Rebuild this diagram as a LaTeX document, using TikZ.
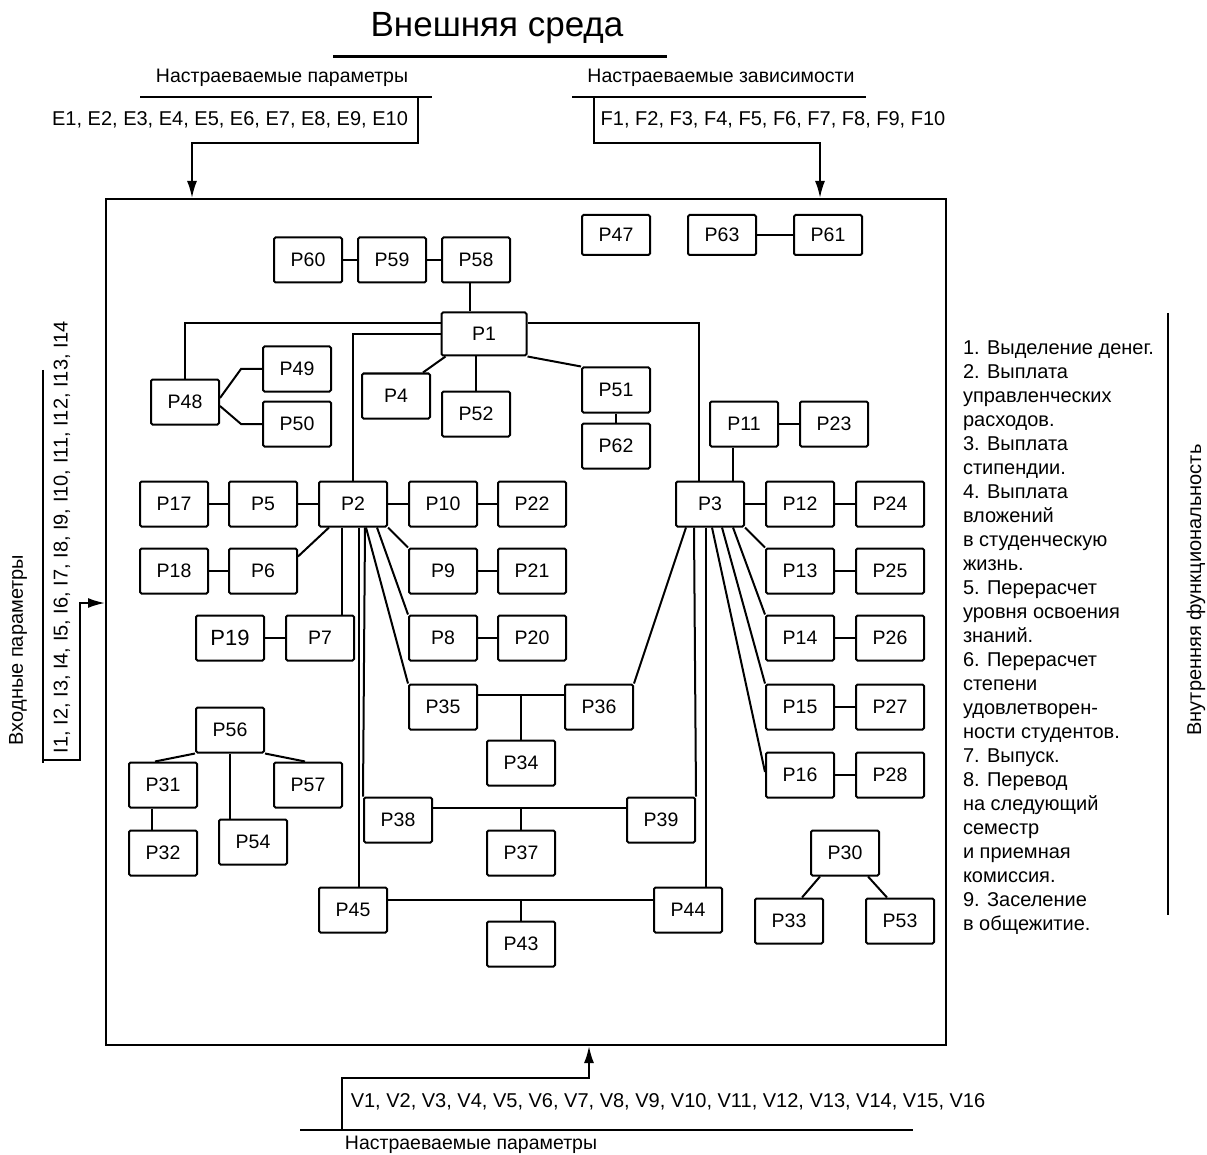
\documentclass[tikz,border=0pt]{standalone}
\usepackage{fontspec}
\setmainfont{Liberation Sans}
\usetikzlibrary{arrows.meta}

\begin{document}
\begin{tikzpicture}[every node/.style={inner sep=0pt,font=\fontsize{19.5}{23}\selectfont},
	blk/.style={draw, rectangle, rounded corners=1.5pt, minimum width=68pt, minimum height=45pt, line width=2pt},
	every edge/.style={draw, line width=2pt},
	line width=2pt, >={Latex[length=17pt,width=10pt]}
]%2pt lines everywhere
\useasboundingbox (0pt,0pt) rectangle (1207pt,-1155pt);
\node (sys) [draw, line width=2pt, minimum width=840pt, minimum height=846pt] at (526pt,-622pt) {};
% blocks
\node (p60) [blk] at (308pt,-260pt) {P60};
\node (p59) [blk] at (392pt,-260pt) {P59};
\node (p58) [blk] at (476pt,-260pt) {P58};
\node (p47) [blk, minimum height=40pt] at (616pt,-235pt) {P47};
\node (p63) [blk, minimum height=40pt] at (722pt,-235pt) {P63};
\node (p61) [blk, minimum height=40pt] at (828pt,-235pt) {P61};
\node (p1) [blk, minimum width=85pt, minimum height=43pt] at (484pt,-334pt) {P1};
\node (p48) [blk] at (185pt,-402pt) {P48};
\node (p49) [blk] at (297pt,-369pt) {P49};
\node (p50) [blk] at (297pt,-424pt) {P50};
\node (p4) [blk] at (396pt,-396pt) {P4};
\node (p52) [blk] at (476pt,-414pt) {P52};
\node (p51) [blk] at (616pt,-390pt) {P51};
\node (p62) [blk] at (616pt,-446pt) {P62};
\node (p11) [blk] at (744pt,-424pt) {P11};
\node (p23) [blk] at (834pt,-424pt) {P23};
\node (p17) [blk] at (174pt,-504pt) {P17};
\node (p5) [blk] at (263pt,-504pt) {P5};
\node (p2) [blk] at (353pt,-504pt) {P2};
\node (p10) [blk] at (443pt,-504pt) {P10};
\node (p22) [blk] at (532pt,-504pt) {P22};
\node (p3) [blk] at (710pt,-504pt) {P3};
\node (p12) [blk] at (800pt,-504pt) {P12};
\node (p24) [blk] at (890pt,-504pt) {P24};
\node (p18) [blk] at (174pt,-571pt) {P18};
\node (p6) [blk] at (263pt,-571pt) {P6};
\node (p9) [blk] at (443pt,-571pt) {P9};
\node (p21) [blk] at (532pt,-571pt) {P21};
\node (p13) [blk] at (800pt,-571pt) {P13};
\node (p25) [blk] at (890pt,-571pt) {P25};
\node (p19) [blk, font=\fontsize{22}{26}\selectfont] at (230pt,-638pt) {P19};
\node (p7) [blk] at (320pt,-638pt) {P7};
\node (p8) [blk] at (443pt,-638pt) {P8};
\node (p20) [blk] at (532pt,-638pt) {P20};
\node (p14) [blk] at (800pt,-638pt) {P14};
\node (p26) [blk] at (890pt,-638pt) {P26};
\node (p35) [blk] at (443pt,-707pt) {P35};
\node (p36) [blk] at (599pt,-707pt) {P36};
\node (p15) [blk] at (800pt,-707pt) {P15};
\node (p27) [blk] at (890pt,-707pt) {P27};
\node (p34) [blk] at (521pt,-763pt) {P34};
\node (p16) [blk] at (800pt,-775pt) {P16};
\node (p28) [blk] at (890pt,-775pt) {P28};
\node (p56) [blk] at (230pt,-730pt) {P56};
\node (p31) [blk] at (163pt,-785pt) {P31};
\node (p57) [blk] at (308pt,-785pt) {P57};
\node (p32) [blk] at (163pt,-853pt) {P32};
\node (p54) [blk] at (253pt,-842pt) {P54};
\node (p38) [blk] at (398pt,-820pt) {P38};
\node (p39) [blk] at (661pt,-820pt) {P39};
\node (p37) [blk] at (521pt,-853pt) {P37};
\node (p45) [blk] at (353pt,-910pt) {P45};
\node (p44) [blk] at (688pt,-910pt) {P44};
\node (p43) [blk] at (521pt,-944pt) {P43};
\node (p30) [blk] at (845pt,-853pt) {P30};
\node (p33) [blk] at (789pt,-921pt) {P33};
\node (p53) [blk] at (900pt,-921pt) {P53};
% links
\path
(p60) edge (p59)
(p59) edge (p58)
(p63) edge (p61)
(p11) edge (p23)
(p17) edge (p5)
(p5) edge (p2)
(p2) edge (p10)
(p10) edge (p22)
(p3) edge (p12)
(p12) edge (p24)
(p18) edge (p6)
(p9) edge (p21)
(p13) edge (p25)
(p19) edge (p7)
(p8) edge (p20)
(p14) edge (p26)
(p15) edge (p27)
(p16) edge (p28)
(p51) edge (p62)
([xshift=-11pt]p31.south) edge ([xshift=-11pt]p32.north)
([xshift=-6pt]p58.south) edge ([xshift=-14pt]p1.north)
(p1.south -| p52.north) edge (p52.north)
([xshift=5pt]p1.south west) edge ([xshift=-8pt]p4.north east)
(p1.south east) edge (p51.north west)
([xshift=-11pt]p11.south) edge ([xshift=23pt]p3.north)
([yshift=-9pt]p6.north east) edge ([xshift=11pt]p2.south west)
([xshift=-11pt]p2.south) edge ([xshift=22pt]p7.north)
([xshift=6pt]p2.south) edge ([xshift=6pt]p45.north)
([xshift=12pt]p2.south) edge (p38.north west)
([xshift=13pt]p2.south) edge (p35.north west)
([xshift=24pt]p2.south) edge (p8.north west)
(p2.south east) edge (p9.north west)
(p36.north east) edge ([xshift=11pt]p3.south west)
([xshift=-16pt]p3.south) edge (p39.north east)
([xshift=-4pt]p3.south) edge ([xshift=18pt]p44.north)
(p3.south east) edge (p13.north west)
([xshift=23pt]p3.south) edge (p14.north west)
([xshift=12pt]p3.south) edge (p15.north west)
([xshift=2pt]p3.south) edge ([yshift=3pt]p16.west)
([yshift=12pt]p35.east) edge ([yshift=12pt]p36.west)
([yshift=12pt]p38.east) edge ([yshift=12pt]p39.west)
([yshift=10pt]p45.east) edge ([yshift=10pt]p44.west)
(p56.south west) edge ([xshift=-8pt]p31.north)
(p56.south east) edge ([xshift=-3pt]p57.north)
(p56.south) edge (p56.south |- p54.north)
([xshift=-25pt]p30.south) edge ([xshift=13pt]p33.north)
([xshift=23pt]p30.south) edge ([xshift=-13pt]p53.north);
\draw (p34.north) -- ++(0pt,46pt);
\draw (p37.north) -- ++(0pt,23pt);
\draw (p43.north) -- ++(0pt,22pt);
\draw ([yshift=11pt]p1.west) -| (p48.north);
\draw ([yshift=11pt]p1.east) -| ([xshift=-11pt]p3.north);
\draw (p1.west) -| (p2.north);
\draw ([yshift=4pt]p48.east) -- ([xshift=-21pt]p49.west) -- (p49.west);
\draw ([yshift=-4pt]p48.east) -- ([xshift=-21pt]p50.west) -- (p50.west);
% outside
\node (title) [font=\fontsize{35}{40}\selectfont] at (497pt,-28pt) {Внешняя среда};
\draw[line width=3pt] (333pt,-57pt) -- (667pt,-57pt);
\node (etop) at (282pt,-78pt) {Настраеваемые параметры};
\node (ftop) at (721pt,-78pt) {Настраеваемые зависимости};
\node (elist) [font=\fontsize{20}{24}\selectfont] at (230pt,-120pt) {E1, E2, E3, E4, E5, E6, E7, E8, E9, E10};
\node (flist) [font=\fontsize{20}{24}\selectfont] at (773pt,-120pt) {F1, F2, F3, F4, F5, F6, F7, F8, F9, F10};
\draw (140pt,-97pt) -- (432pt,-97pt);
\draw (572pt,-97pt) -- (866pt,-97pt);
\coordinate (eknee) at (192pt,-143pt);
\coordinate (fknee) at (820pt,-143pt);
\draw[->] (418pt,-97pt) |- (eknee) -- (eknee |- sys.north);
\draw[->] (594pt,-97pt) |- (fknee) -- (fknee |- sys.north);
\node (vlist) [font=\fontsize{20}{24}\selectfont] at (668pt,-1102pt) {V1, V2, V3, V4, V5, V6, V7, V8, V9, V10, V11, V12, V13, V14, V15, V16};
\node (vbot) at (471pt,-1145pt) {Настраеваемые параметры};
\draw (300pt,-1130pt) -- (913pt,-1130pt);
\coordinate (vknee) at (589pt,-1078pt);
\draw[->] (342pt,-1130pt) |- (vknee) -- (vknee |- sys.south);
\node (ipar) [rotate=90, font=\fontsize{20}{24}\selectfont] at (18pt,-650pt) {Входные параметры};
\node (ilist) [rotate=90, font=\fontsize{20}{24}\selectfont] at (62pt,-537pt) {I1, I2, I3, I4, I5, I6, I7, I8, I9, I10, I11, I12, I13, I14};
\draw (43pt,-370pt) -- (43pt,-763pt);
\coordinate (iknee) at (80pt,-603pt);
\draw[->] (43pt,-760pt) -| (iknee) -- (iknee -| sys.west);
\draw (1168pt,-313pt) -- (1168pt,-915pt);
\node (ifun) [rotate=90, font=\fontsize{20}{24}\selectfont] at (1196pt,-590pt) {Внутренняя функциональность};
\node (legend) [anchor=north west, align=left, font=\fontsize{20}{24}\selectfont] at (962pt,-340pt) {1. Выделение денег.\\2. Выплата\\управленческих\\расходов.\\3. Выплата\\стипендии.\\4. Выплата\\вложений\\в студенческую\\жизнь.\\5. Перерасчет\\уровня освоения\\знаний.\\6. Перерасчет\\степени\\удовлетворен-\\ности студентов.\\7. Выпуск.\\8. Перевод\\на следующий\\семестр\\и приемная\\комиссия.\\9. Заселение\\в общежитие.};
\end{tikzpicture}
\end{document}
